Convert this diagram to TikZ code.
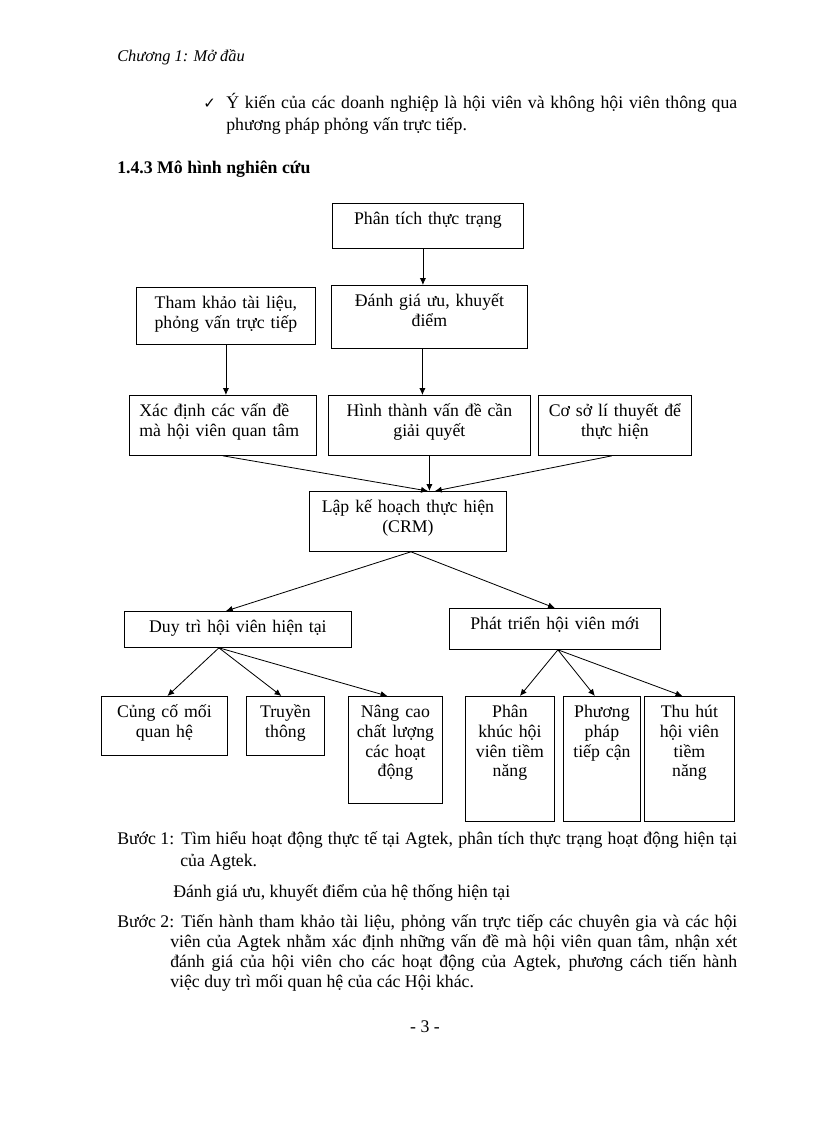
\documentclass[tikz,border=0pt]{standalone}
\usepackage{fontspec}
\setmainfont{Liberation Serif}
\newfontfamily\symfont{DejaVu Sans}
\usepackage{tikz}
\usetikzlibrary{calc}
\usetikzlibrary{arrows.meta}
\newlength{\pxu}
\setlength{\pxu}{0.25735mm}
\newcommand{\body}{\fontsize{13}{14.5}\selectfont}
\tikzset{
  box/.style={draw, line width=0.6pt, anchor=north west, inner xsep=0pt, inner ysep=0pt,
    align=center, text height=21\pxu, font=\body},
  txt/.style={anchor=base west, inner sep=0pt, font=\body},
  link/.style={line width=0.6pt, -{Latex[length=5pt,width=4.5pt]}}
}

\begin{document}
\begin{tikzpicture}[x=0.25735mm, y=-0.25735mm]
  \useasboundingbox (0,0) rectangle (816,1123);
  % Page text above
  \node[txt, font=\fontsize{12}{14}\selectfont\itshape] (head) at (117,62) {Chương 1: Mở đầu};
  \node[txt, font=\symfont\fontsize{11}{13}\selectfont] (tick) at (203,109) {✓};
  \node[txt] (l1) at (226,109) {\makebox[511\pxu][s]{Ý kiến của các doanh nghiệp là hội viên và không hội viên thông qua}};
  \node[txt] (l2) at (226,131) {phương pháp phỏng vấn trực tiếp.};
  \node[txt, font=\body\bfseries] (sec) at (117,173) {1.4.3 Mô hình nghiên cứu};
  %
  % Boxes:
  \node[box, text width=191\pxu, text depth=24\pxu] (pt) at (332,203) {Phân tích thực trạng};
  \node[box, text width=179\pxu, text depth=36\pxu] (tk) at (136,287) {Tham khảo tài liệu,\\ phỏng vấn trực tiếp};
  \node[box, text width=196\pxu, text depth=42\pxu] (dg) at (331,285) {Đánh giá ưu, khuyết\\ điểm};
  \node[box, align=left, inner xsep=10\pxu, text width=167\pxu, text depth=39\pxu] (xd) at (129,395) {Xác định các vấn đề\\ mà hội viên quan tâm};
  \node[box, text width=202\pxu, text depth=39\pxu] (ht) at (328,395) {Hình thành vấn đề cần\\ giải quyết};
  \node[box, text width=153\pxu, text depth=39\pxu] (cs) at (538,395) {Cơ sở lí thuyết để\\ thực hiện};
  \node[box, text width=197\pxu, text depth=39\pxu] (lap) at (309,491) {Lập kế hoạch thực hiện\\ (CRM)};
  \node[box, text width=227\pxu, text depth=15\pxu] (dt) at (124,611) {Duy trì hội viên hiện tại};
  \node[box, text width=211\pxu, text depth=20\pxu] (ptm) at (449,608) {Phát triển hội viên mới};
  \node[box, text width=126\pxu, text depth=38\pxu] (cc) at (101,696) {Củng cố mối\\ quan hệ};
  \node[box, text width=78\pxu, text depth=38\pxu] (tt) at (246,696) {Truyền\\ thông};
  \node[box, text width=94\pxu, text depth=86\pxu] (nc) at (348,696) {Nâng cao\\ chất lượng\\ các hoạt\\ động};
  \node[box, text width=89\pxu, text depth=104\pxu] (pk) at (465,696) {Phân\\ khúc hội\\ viên tiềm\\ năng};
  \node[box, text width=77\pxu, text depth=104\pxu] (pp) at (563,696) {Phương\\ pháp\\ tiếp cận};
  \node[box, text width=90\pxu, text depth=104\pxu] (th) at (644,696) {Thu hút\\ hội viên\\ tiềm\\ năng};
  %
  % Arrows:
  \draw[link] ($(pt.south)+(-5,0)$) -- ($(pt.south |- dg.north)+(-5,0)$);
  \draw[link] (tk.south) -- (tk.south |- xd.north);
  \draw[link] ($(dg.south)+(-7,0)$) -- ($(dg.south |- ht.north)+(-7,0)$);
  \draw[link] (xd.south) -- ($(lap.north)+(20,0)$);
  \draw[link] (ht.south) -- (ht.south |- lap.north);
  \draw[link] ($(cs.south)+(-3,0)$) -- ($(lap.north)+(27,0)$);
  \draw[link] ($(lap.south)+(3,0)$) -- ($(dt.north)+(-12,0)$);
  \draw[link] ($(lap.south)+(3,0)$) -- (ptm.north);
  \draw[link] ($(dt.south)+(-19,0)$) -- ($(cc.north)+(3,0)$);
  \draw[link] ($(dt.south)+(-19,0)$) -- ($(tt.north)+(-4,0)$);
  \draw[link] ($(dt.south)+(-19,0)$) -- ($(nc.north)+(-8,0)$);
  \draw[link] ($(ptm.south)+(3,0)$) -- ($(pk.north)+(10,0)$);
  \draw[link] ($(ptm.south)+(3,0)$) -- ($(pp.north)+(-7,0)$);
  \draw[link] ($(ptm.south)+(3,0)$) -- ($(th.north)+(-7,0)$);
  %
  % Page text below
  \node[txt] (b1) at (117,844) {Bước 1:};
  \node[txt] (b1a) at (181,844) {\makebox[556\pxu][s]{Tìm hiểu hoạt động thực tế tại Agtek, phân tích thực trạng hoạt động hiện tại}};
  \node[txt] (b1b) at (180,866) {của Agtek.};
  \node[txt] (b1c) at (173,897) {Đánh giá ưu, khuyết điểm của hệ thống hiện tại};
  \node[txt] (b2) at (117,927) {Bước 2:};
  \node[txt] (b2a) at (181,927) {\makebox[556\pxu][s]{Tiến hành tham khảo tài liệu, phỏng vấn trực tiếp các chuyên gia và các hội}};
  \node[txt] (b2b) at (170,947) {\makebox[567\pxu][s]{viên của Agtek nhằm xác định những vấn đề mà hội viên quan tâm, nhận xét}};
  \node[txt] (b2c) at (170,967) {\makebox[567\pxu][s]{đánh giá của hội viên cho các hoạt động của Agtek, phương cách tiến hành}};
  \node[txt] (b2d) at (170,987) {việc duy trì mối quan hệ của các Hội khác.};
  \node[txt, anchor=base] (pg) at (425,1032) {- 3 -};
\end{tikzpicture}
\end{document}
